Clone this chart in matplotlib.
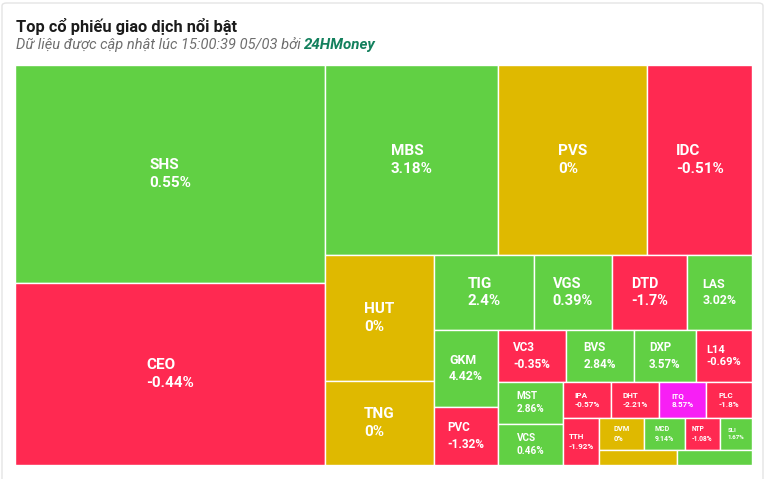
import numpy as np
import matplotlib.pyplot as plt
from matplotlib.patches import Rectangle, FancyBboxPatch

# du lieu: ma co phieu, % thay doi, gia tri giao dich (uoc luong tu hinh)
ma_cp = ["SHS", "CEO", "MBS", "PVS", "IDC", "HUT", "TNG", "TIG", "VGS", "DTD",
         "LAS", "GKM", "PVC", "VC3", "BVS", "DXP", "L14", "MST", "VCS", "IPA",
         "DHT", "ITQ", "PLC", "TTH", "DVM", "MCD", "NTP", "SLI", "", ""]
thay_doi = [0.55, -0.44, 3.18, 0, -0.51, 0, 0, 2.4, 0.39, -1.7,
            3.02, 4.42, -1.32, -0.35, 2.84, 3.57, -0.69, 2.86, 0.46, -0.57,
            -2.21, 8.57, -1.8, -1.92, 0, 9.14, -1.08, 1.67, 0, 0.5]
gia_tri = [67580, 56420, 32870, 28310, 19950, 13734, 9156, 7500, 5850, 5625,
           4900, 4900, 3712, 3536, 3536, 3224, 2912, 2700, 2700, 1728,
           1728, 1692, 1656, 1700, 1440, 1280, 1120, 1024, 1170, 1140]
ma_tran = ["ITQ"]  # tang tran

XANH = "#61d044"
DO = "#ff2951"
VANG = "#dfb900"
TIM = "#f71ff5"


def mau(ma, pct):
    if ma in ma_tran:
        return TIM
    if pct > 0:
        return XANH
    if pct < 0:
        return DO
    return VANG


def ti_le(a, b):
    return max(a / b, b / a)


def xep_o(values, w, h):
    # squarified, doi huong sau moi dai (cot -> hang -> cot ...)
    tong = sum(values)
    dien_tich = [v / tong * w * h for v in values]
    x, y = 0.0, 0.0
    huong = 0
    hang = []
    o = []

    def dat(hang, x, y, w, h, huong):
        s = sum(hang)
        if huong == 0:
            cw = s / h
            yy = y
            for a in hang:
                o.append((x, yy, cw, a / cw))
                yy += a / cw
            return x + cw, y, w - cw, h
        rh = s / w
        xx = x
        for a in hang:
            o.append((xx, y, a / rh, rh))
            xx += a / rh
        return x, y + rh, w, h - rh

    for a in dien_tich:
        if hang:
            p = hang[-1]
            s = sum(hang)
            canh = h if huong == 0 else w
            cu = ti_le(s / canh, p / (s / canh))
            moi = ti_le((s + a) / canh, p / ((s + a) / canh))
            if moi > cu:
                x, y, w, h = dat(hang, x, y, w, h, huong)
                huong = 1 - huong
                hang = []
        hang.append(a)
    dat(hang, x, y, w, h, huong)
    return o


W, H = 737, 413

fig = plt.figure(figsize=(7.71, 4.79), dpi=100)
fig.patch.set_facecolor("white")

khung = FancyBboxPatch((2 / 771, -0.05), 761 / 771, 1.05 - 3 / 479,
                       boxstyle="round,pad=0,rounding_size=0.006",
                       transform=fig.transFigure, facecolor="white",
                       edgecolor="#e4e4e4", linewidth=1, zorder=-5)
fig.patches.append(khung)

fig.text(16 / 771, 1 - 32 / 479, "Top cổ phiếu giao dịch nổi bật",
         fontsize=11.8, fontweight="bold", family="Roboto", color="#1b1b1b",
         va="baseline")
t1 = fig.text(16 / 771, 1 - 49 / 479,
              "Dữ liệu được cập nhật lúc 15:00:39 05/03 bởi ",
              fontsize=10.5, style="italic", family="Roboto", color="#6e6e6e",
              va="baseline")
fig.canvas.draw()
bb = t1.get_window_extent()
fig.text(bb.x1 / 771, 1 - 49 / 479, "24HMoney", fontsize=10.9,
         style="italic", fontweight="bold", family="Roboto", color="#13805d",
         va="baseline")

ax = fig.add_axes([15 / 771, 14 / 479, 737 / 771, 400 / 479])
ax.set_zorder(2)
ax.set_xlim(0, W)
ax.set_ylim(H, 0)
ax.axis("off")

o = xep_o(gia_tri, W, H)
for (x, y, w, h), ma, pct in zip(o, ma_cp, thay_doi):
    ax.add_patch(Rectangle((x, y), w, h, facecolor=mau(ma, pct),
                           edgecolor="white", linewidth=1))
    if not ma:
        continue
    dt = w * h * 400 / H
    fs = np.interp(dt, [1000, 1120, 1300, 1700, 2700, 2950, 5000, 5700, 7000],
                   [4.3, 4.8, 5.1, 5.8, 7.2, 8.2, 9.0, 10.5, 11])
    ax.text(x + w / 2, y + h / 2, f"{ma}\n{pct:g}%", ha="center", va="center",
            multialignment="left", color="white", fontsize=fs,
            fontweight="bold", family="Roboto", linespacing=1.35)

fig.savefig("out.png", dpi=100)
